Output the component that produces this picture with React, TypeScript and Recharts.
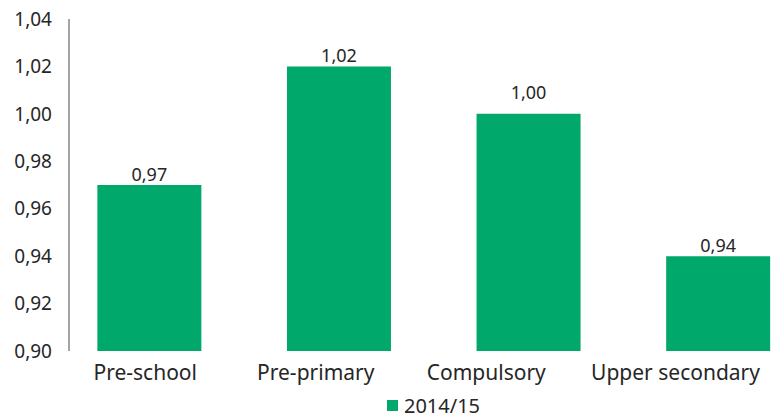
import React from "react";
import { Bar, BarChart, LabelList, Legend, XAxis, YAxis } from "recharts";

const categories = ["Pre-school", "Pre-primary", "Compulsory", "Upper secondary"];
const values2014 = [0.97, 1.02, 1.0, 0.94];
const yTicks = [0.9, 0.92, 0.94, 0.96, 0.98, 1.0, 1.02, 1.04];
const seriesName = "2014/15";

const GREEN = "#00A86B";
const TEXT = "#262626";
const AXIS = "#868686";
const FONT = "'Noto Sans', sans-serif";

const data = categories.map((name, i) => ({ name, value: values2014[i] }));

const fmt = (v: any) => Number(v).toFixed(2).replace(".", ",");

// the original lifts the "Compulsory" label a bit higher than the rest
const labelLift: Record<number, number> = { 2: 11 };

function ValueLabel(props: any) {
  const { x, y, width, value, index } = props;
  const lift = labelLift[index] || 0;
  return (
    <text x={x + width / 2} y={y - 4 - lift} textAnchor="middle" fill={TEXT} fontSize={18} fontFamily={FONT}>
      {fmt(value)}
    </text>
  );
}

// the last label sits flush against the right edge, as in the original
function XTick(props: any) {
  const { x, y, payload, index, visibleTicksCount } = props;
  const last = index === visibleTicksCount - 1;
  return (
    <text
      x={last ? 760 : x}
      y={y}
      dy="0.71em"
      textAnchor={last ? "end" : "middle"}
      fill={TEXT}
      fontSize={21}
      fontFamily={FONT}
    >
      {payload.value}
    </text>
  );
}

function LegendBox() {
  return (
    <div style={{ height: 28, display: "flex", justifyContent: "center", alignItems: "center", paddingLeft: 83, fontFamily: FONT, fontSize: 20, color: TEXT }}>
      <span style={{ width: 11, height: 11, background: GREEN, display: "inline-block", marginRight: 6 }} />
      {seriesName}
    </div>
  );
}

export default function App() {
  return (
    <div style={{ position: "absolute", left: 0, top: 0, background: "#fff" }}>
      <BarChart
        width={784}
        height={419}
        data={data}
        margin={{ top: 19, right: 0, bottom: 0, left: 0 }}
        barCategoryGap="22.5%"
      >
        <XAxis
          dataKey="name"
          axisLine={{ stroke: AXIS, strokeWidth: 1.5 }}
          tickLine={false}
          tick={false}
          height={0}
          padding={{ left: -14.3, right: -29.1 }}
        />
        <XAxis
          xAxisId="labels"
          dataKey="name"
          axisLine={false}
          tickLine={false}
          tickSize={0}
          tickMargin={14}
          height={40}
          padding={{ left: -9, right: 42 }}
          tick={<XTick />}
          interval={0}
        />
        <YAxis
          domain={[0.9, 1.04]}
          ticks={yTicks}
          allowDataOverflow
          width={69}
          axisLine={{ stroke: AXIS, strokeWidth: 1.5 }}
          tickLine={false}
          tickSize={0}
          tickMargin={17}
          tickFormatter={fmt}
          tick={{ fill: TEXT, fontSize: 19, fontFamily: FONT }}
        />
        <Legend verticalAlign="bottom" content={() => <LegendBox />} />
        <Bar dataKey="value" name={seriesName} fill={GREEN} isAnimationActive={false}>
          <LabelList dataKey="value" content={<ValueLabel />} />
        </Bar>
      </BarChart>
    </div>
  );
}
